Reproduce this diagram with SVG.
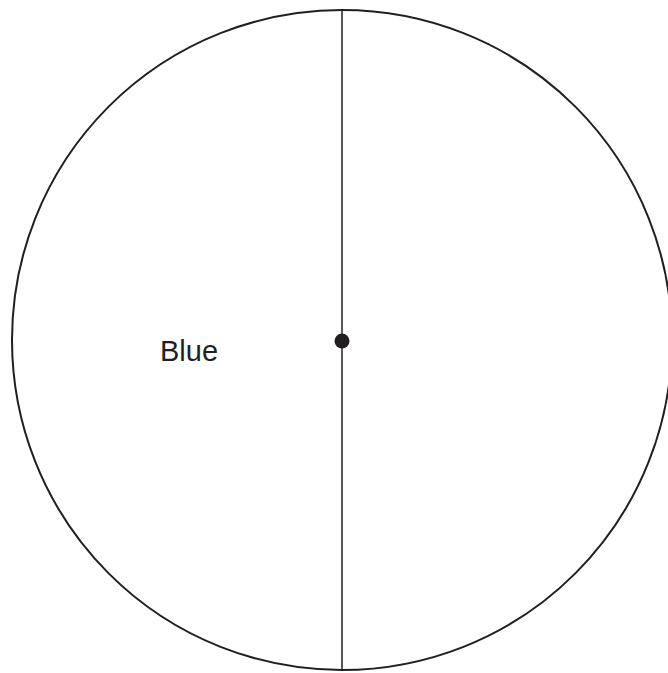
<svg xmlns="http://www.w3.org/2000/svg" width="668" height="673" viewBox="0 0 668 673">
<style>
.outline{fill:none;stroke:#231f20;stroke-width:2}
.axis{stroke:#231f20;stroke-width:1.5}
.label{font-family:"Liberation Sans",Arial,sans-serif;font-size:29px;fill:#231f20}
</style>
<rect width="668" height="673" fill="#fff"/>
<g id="circle"><circle class="outline" cx="342" cy="340" r="330"/></g>
<g id="connectors"><line class="axis" x1="342" y1="10" x2="342" y2="670"/></g>
<g id="center"><circle cx="342" cy="341" r="7.5" fill="#231f20"/></g>
<g id="blue-label"><text class="label" x="160" y="361">Blue</text></g>
</svg>
